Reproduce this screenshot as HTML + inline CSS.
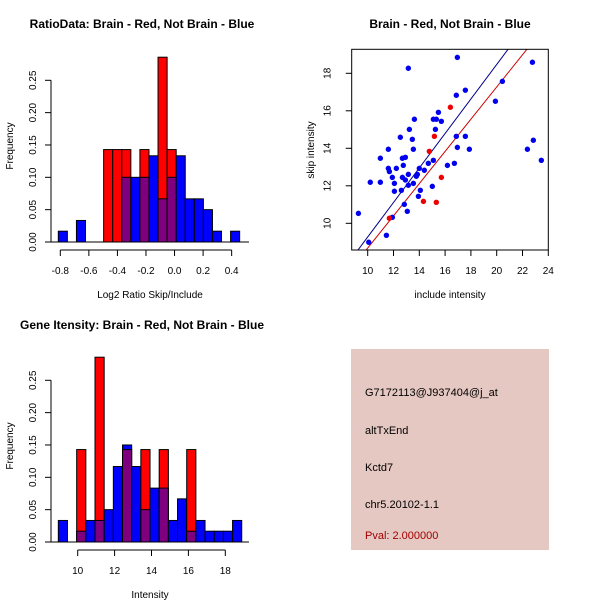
<!DOCTYPE html>
<html><head><meta charset="utf-8"><style>
body{margin:0;background:#fff}
svg{display:block;font-family:"Liberation Sans",sans-serif}
</style></head><body>
<svg id="s" width="600" height="600" viewBox="0 0 600 600" xmlns="http://www.w3.org/2000/svg">
<rect x="0" y="0" width="600" height="600" fill="#fff"/>
<text x="142" y="28" font-size="12" font-weight="bold" text-anchor="middle">RatioData: Brain - Red, Not Brain - Blue</text>
<text x="450" y="28" font-size="12" font-weight="bold" text-anchor="middle">Brain - Red, Not Brain - Blue</text>
<text x="142" y="329" font-size="12" font-weight="bold" text-anchor="middle">Gene Itensity: Brain - Red, Not Brain - Blue</text>
<text x="150" y="298" font-size="10" text-anchor="middle">Log2 Ratio Skip/Include</text>
<text x="0" y="0" font-size="10" text-anchor="middle" transform="translate(13,146) rotate(-90)">Frequency</text>
<text x="450" y="298" font-size="10" text-anchor="middle">include intensity</text>
<text x="0" y="0" font-size="10" text-anchor="middle" transform="translate(314,150) rotate(-90)">skip intensity</text>
<text x="150" y="598" font-size="10" text-anchor="middle">Intensity</text>
<text x="0" y="0" font-size="10" text-anchor="middle" transform="translate(13,446) rotate(-90)">Frequency</text>
<g>
<rect x="351" y="349" width="198" height="201" fill="#e6c8c2"/>
<text x="365" y="396" font-size="11">G7172113@J937404@j_at</text>
<text x="365" y="434" font-size="11">altTxEnd</text>
<text x="365" y="471" font-size="11">Kctd7</text>
<text x="365" y="508" font-size="11">chr5.20102-1.1</text>
<text x="365" y="539" font-size="11" fill="#a00000">Pval: 2.000000</text>
</g>
</svg>
<script>
const ratioBinStart = -0.814;
const ratioBinWidth = 0.0635;
const ratioBlue = [0.0167,0,0.0333,0,0,0,0,0.1,0.1,0.1,0.1333,0.0667,0.1,0.1333,0.0667,0.0667,0.05,0.0167,0,0.0167];
const ratioRed  = [0,0,0,0,0,0.1429,0.1429,0.1429,0,0.1429,0,0.2857,0.1429,0,0,0,0,0,0,0];
const ratioXTicks = [-0.8,-0.6,-0.4,-0.2,0.0,0.2,0.4];
const ratioXLabels = ["-0.8","-0.6","-0.4","-0.2","0.0","0.2","0.4"];
const freqTicks = [0,0.05,0.10,0.15,0.20,0.25];
const freqLabels = ["0.00","0.05","0.10","0.15","0.20","0.25"];
const intBinStart = 8.95;
const intBinWidth = 0.497;
const intBlue = [0.0333,0,0.0167,0.0333,0.0333,0.05,0.1167,0.15,0.1167,0.05,0.0833,0.0833,0.0333,0.0667,0.0167,0.0333,0.0167,0.0167,0.0167,0.0333];
const intRed  = [0,0,0.1429,0,0.2857,0,0,0.1429,0,0.1429,0,0.1429,0,0,0.1429,0,0,0,0,0];
const intXTicks = [10,12,14,16,18];
const scatterXTicks = [10,12,14,16,18,20,22,24];
const scatterYTicks = [10,12,14,16,18];
const blueX = [9.28,10.08,10.2,10.98,10.98,11.45,11.6,11.6,11.68,11.91,11.91,12.07,12.07,12.22,12.53,12.61,12.69,12.69,12.76,12.84,12.92,12.92,13.07,13.15,13.15,13.15,13.23,13.46,13.54,13.54,13.62,13.77,13.85,13.93,14.0,14.08,14.39,14.7,15.01,15.09,15.09,15.25,15.32,15.48,15.71,16.18,16.72,16.87,16.87,16.95,16.95,17.57,17.57,17.88,19.9,20.44,22.38,22.77,22.84,23.46];
const blueY = [10.53,8.99,12.19,13.47,12.19,9.36,13.95,12.93,12.76,10.32,12.45,12.13,11.71,12.93,14.59,11.76,12.45,13.47,13.09,11.01,13.52,12.31,10.64,12.61,12.03,18.27,15.01,14.48,13.95,12.13,15.55,12.51,12.61,11.44,12.93,11.76,12.83,13.2,11.97,13.36,15.55,15.01,15.55,15.92,15.44,13.09,13.2,16.83,14.64,14.05,18.85,17.1,14.64,13.95,16.51,17.57,13.95,18.59,14.43,13.36];
const redX = [11.68,14.32,14.78,15.17,15.32,15.71,16.41];
const redY = [10.27,11.17,13.84,14.64,11.12,12.45,16.19];
const blueFit = [0.07,0.92];
const redFit = [0.09,0.859];

const NS="http://www.w3.org/2000/svg";
const svg=document.getElementById('s');
function mk(tag,attrs,parent){const e=document.createElementNS(NS,tag);for(const k in attrs)e.setAttribute(k,attrs[k]);(parent||svg).appendChild(e);return e;}

function hist(cfg){
  const g=mk('g',{});
  
  
  const sx=v=>cfg.x0+(v-cfg.xv0)*cfg.kx;
  const sy=v=>cfg.y0-v*cfg.ky;
  for(let i=0;i<cfg.blue.length;i++){
    const a=cfg.start+i*cfg.w,b=a+cfg.w;
    const bl=cfg.blue[i],rd=cfg.red[i];
    const hi=Math.max(bl,rd),lo=Math.min(bl,rd);
    if(hi<=0)continue;
    const x=sx(a),wd=sx(b)-sx(a);
    const r=mk('rect',{x:x,y:sy(hi),width:wd,height:sy(0)-sy(hi),fill:bl>=rd?'#0000ff':'#ff0000',stroke:'#000','stroke-width':1},g);
    
    
    if(lo>0){
      const p=mk('rect',{x:x,y:sy(lo),width:wd,height:sy(0)-sy(lo),fill:'#7f007f',stroke:'#000','stroke-width':1},g);
      
      
    }
  }
  mk('line',{x1:51,x2:249,y1:sy(0),y2:sy(0),stroke:'#000'},g);
  mk('line',{x1:51,x2:51,y1:sy(0),y2:sy(0.25),stroke:'#000'},g);
  freqTicks.forEach((t,i)=>{
    mk('line',{x1:45,x2:51,y1:sy(t),y2:sy(t),stroke:'#000'},g);
    const tx=mk('text',{x:0,y:0,'font-size':10,'text-anchor':'middle',transform:`translate(${36},${sy(t)}) rotate(-90)`},g);
    tx.textContent=freqLabels[i];
    
    
  });
  const ay=cfg.y0+8;
  mk('line',{x1:sx(cfg.ticks[0]),x2:sx(cfg.ticks[cfg.ticks.length-1]),y1:ay,y2:ay,stroke:'#000'},g);
  cfg.ticks.forEach((t,i)=>{
    mk('line',{x1:sx(t),x2:sx(t),y1:ay,y2:ay+6,stroke:'#000'},g);
    const tx=mk('text',{x:sx(t),y:ay+24,'font-size':10,'text-anchor':'middle'},g);
    tx.textContent=cfg.labels[i];
    
    
  });
}
hist({name:'ratio-histogram',blue:ratioBlue,red:ratioRed,start:ratioBinStart,w:ratioBinWidth,x0:60.3,xv0:-0.8,kx:142.8,y0:242,ky:646.8,ticks:ratioXTicks,labels:ratioXLabels});
hist({name:'intensity-histogram',blue:intBlue,red:intRed,start:intBinStart,w:intBinWidth,x0:77.7,xv0:10,kx:18.45,y0:542,ky:646.8,ticks:intXTicks,labels:intXTicks.map(String)});

const sg=mk('g',{});


const px=v=>367.7+(v-10)*12.9;
const py=v=>223.3-(v-10)*18.75;
const L=351.7,R=548.3,T=49.3,B=250;
mk('clipPath',{id:'clip'},sg);
mk('rect',{x:L,y:T,width:R-L,height:B-T},document.getElementById('clip'));
function fitLine(f,color,name){
  const x1=(L-367.7)/12.9+10,x2=(R-367.7)/12.9+10;
  const ln=mk('line',{x1:px(x1),y1:py(f[0]+f[1]*x1),x2:px(x2),y2:py(f[0]+f[1]*x2),stroke:color,'stroke-width':1,'clip-path':'url(#clip)'},sg);
  
  
}
fitLine(blueFit,'#00008b','blue-fit-line');
fitLine(redFit,'#cc0000','red-fit-line');
blueX.forEach((x,i)=>{
  const c=mk('circle',{cx:px(x),cy:py(blueY[i]),r:2.7,fill:'#0000ee'},sg);
  
  
});
redX.forEach((x,i)=>{
  const c=mk('circle',{cx:px(x),cy:py(redY[i]),r:2.7,fill:'#ee0000'},sg);
  
  
});
mk('rect',{x:L,y:T,width:R-L,height:B-T,fill:'none',stroke:'#000'},sg);
scatterXTicks.forEach(t=>{
  mk('line',{x1:px(t),x2:px(t),y1:B,y2:B+6,stroke:'#000'},sg);
  const tx=mk('text',{x:px(t),y:B+24,'font-size':10,'text-anchor':'middle'},sg);
  tx.textContent=String(t);
  
  
});
scatterYTicks.forEach(t=>{
  mk('line',{x1:L-6,x2:L,y1:py(t),y2:py(t),stroke:'#000'},sg);
  const tx=mk('text',{x:0,y:0,'font-size':10,'text-anchor':'middle',transform:`translate(${L-21},${py(t)}) rotate(-90)`},sg);
  tx.textContent=String(t);
  
  
});
</script>
</body></html>
